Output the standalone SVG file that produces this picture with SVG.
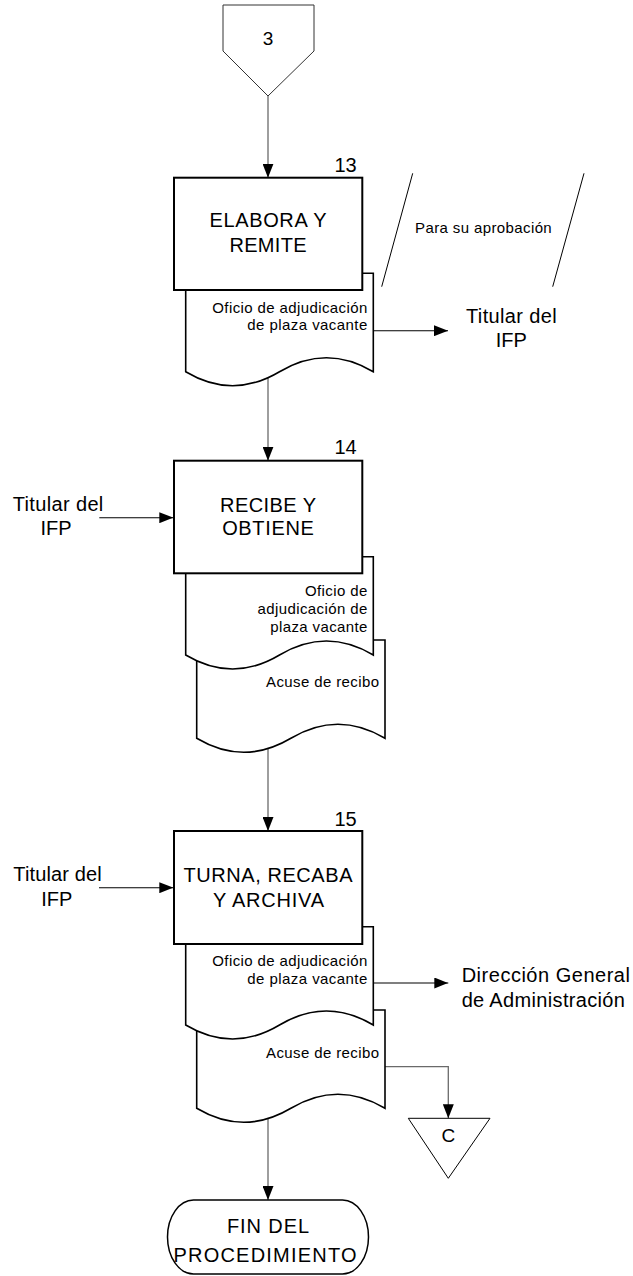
<svg xmlns="http://www.w3.org/2000/svg" width="633" height="1276" viewBox="0 0 633 1276">
<style>
text{font-family:"Liberation Sans",Arial,sans-serif;fill:#000}
.big{font-size:20px}
.num{font-size:20px}
.sm{font-size:15px}
.box{fill:#fff;stroke:#000;stroke-width:2}
.doc{fill:#fff;stroke:#000;stroke-width:1.6}
.thin{fill:#fff;stroke:#000;stroke-width:1}
.cv{fill:none;stroke:#6a6a6a;stroke-width:1.3}
.ch{fill:none;stroke:#000;stroke-width:1.1}
.ann{fill:none;stroke:#000;stroke-width:1}
</style>
<defs>
<marker id="arrow" viewBox="0 0 14 11" refX="14" refY="5.5" markerWidth="14" markerHeight="11" markerUnits="userSpaceOnUse" orient="auto">
<path d="M0,0 L14,5.5 L0,11 Z" fill="#000"/>
</marker>
</defs>

<g id="connectors">
<line class="cv" x1="268" y1="96" x2="268" y2="177.7" marker-end="url(#arrow)"/>
<line class="cv" x1="268" y1="378" x2="268" y2="460.7" marker-end="url(#arrow)"/>
<line class="cv" x1="268" y1="745" x2="268" y2="831" marker-end="url(#arrow)"/>
<line class="cv" x1="268" y1="1115" x2="268" y2="1200" marker-end="url(#arrow)"/>
<line class="ch" x1="373.3" y1="330.7" x2="448" y2="330.7" marker-end="url(#arrow)"/>
<line class="ch" x1="99.3" y1="517.7" x2="173.3" y2="517.7" marker-end="url(#arrow)"/>
<line class="ch" x1="99" y1="887.7" x2="173.3" y2="887.7" marker-end="url(#arrow)"/>
<line class="ch" x1="373.3" y1="983" x2="448.3" y2="983" marker-end="url(#arrow)"/>
<polyline class="cv" points="385,1066.7 448.3,1066.7 448.3,1118.3" marker-end="url(#arrow)"/>
</g>

<g id="conn-3">
<path d="M223,5 H314 V51 L268,96 L223,51 Z" fill="#fff" stroke="#333" stroke-width="1"/>
<text class="big" x="268" y="45" text-anchor="middle" style="font-size:19px">3</text>
</g>

<g id="step-13">
<path class="doc" d="M185.7,273.3 H373.3 V371.7 Q326.4,343.7 279.5,371.7 Q232.6,399.7 185.7,371.7 Z"/>
<text class="sm" x="367.3" y="313.3" text-anchor="end" textLength="155" lengthAdjust="spacing">Oficio de adjudicación</text>
<text class="sm" x="367.3" y="330" text-anchor="end" textLength="120" lengthAdjust="spacing">de plaza vacante</text>
<rect class="box" x="174" y="177.7" width="188.3" height="112.3"/>
<text class="num" x="356.7" y="171.7" text-anchor="end">13</text>
<text class="big" x="268" y="227" text-anchor="middle" textLength="117" lengthAdjust="spacing">ELABORA Y</text>
<text class="big" x="268" y="251.7" text-anchor="middle" textLength="77" lengthAdjust="spacing">REMITE</text>
</g>

<g id="annotation-13">
<line class="ann" x1="412.7" y1="173.3" x2="381.7" y2="286.7"/>
<line class="ann" x1="584" y1="173.3" x2="552.7" y2="286.7"/>
<text class="sm" x="415" y="233.3" textLength="136.7" lengthAdjust="spacing">Para su aprobación</text>
</g>

<g id="titular-13">
<text class="big" x="511.3" y="323" text-anchor="middle" textLength="90.6" lengthAdjust="spacing">Titular del</text>
<text class="big" x="511.3" y="346.7" text-anchor="middle">IFP</text>
</g>

<g id="step-14">
<path class="doc" d="M196.7,640 H385 V738.3 Q337.9,710.3 290.9,738.3 Q243.8,766.3 196.7,738.3 Z"/>
<text class="sm" x="379" y="686.7" text-anchor="end" textLength="113" lengthAdjust="spacing">Acuse de recibo</text>
<path class="doc" d="M185.7,556.7 H373.3 V655 Q326.4,627 279.5,655 Q232.6,683 185.7,655 Z"/>
<text class="sm" x="367.3" y="595.7" text-anchor="end" textLength="62.3" lengthAdjust="spacing">Oficio de</text>
<text class="sm" x="367.3" y="614" text-anchor="end" textLength="109.7" lengthAdjust="spacing">adjudicación de</text>
<text class="sm" x="367.3" y="632" text-anchor="end" textLength="97" lengthAdjust="spacing">plaza vacante</text>
<rect class="box" x="174" y="460.7" width="188.3" height="112.6"/>
<text class="num" x="356.7" y="454.3" text-anchor="end">14</text>
<text class="big" x="268" y="511.7" text-anchor="middle" textLength="96" lengthAdjust="spacing">RECIBE Y</text>
<text class="big" x="268" y="535" text-anchor="middle" textLength="91.7" lengthAdjust="spacing">OBTIENE</text>
</g>

<g id="titular-14">
<text class="big" x="58" y="510.7" text-anchor="middle" textLength="90.6" lengthAdjust="spacing">Titular del</text>
<text class="big" x="56" y="535" text-anchor="middle">IFP</text>
</g>

<g id="step-15">
<path class="doc" d="M196.7,1010 H385 V1108.3 Q337.9,1080.3 290.9,1108.3 Q243.8,1136.3 196.7,1108.3 Z"/>
<text class="sm" x="379" y="1057.7" text-anchor="end" textLength="113" lengthAdjust="spacing">Acuse de recibo</text>
<path class="doc" d="M185.7,926.7 H373.3 V1025 Q326.4,997 279.5,1025 Q232.6,1053 185.7,1025 Z"/>
<text class="sm" x="367.3" y="965.7" text-anchor="end" textLength="155" lengthAdjust="spacing">Oficio de adjudicación</text>
<text class="sm" x="367.3" y="984.3" text-anchor="end" textLength="120" lengthAdjust="spacing">de plaza vacante</text>
<rect class="box" x="174" y="831" width="188.3" height="113"/>
<text class="num" x="356.7" y="825.7" text-anchor="end">15</text>
<text class="big" x="268" y="881.7" text-anchor="middle" textLength="169" lengthAdjust="spacing">TURNA, RECABA</text>
<text class="big" x="268.5" y="906.7" text-anchor="middle" textLength="111" lengthAdjust="spacing">Y ARCHIVA</text>
</g>

<g id="titular-15">
<text class="big" x="57.5" y="881" text-anchor="middle" textLength="88.4" lengthAdjust="spacing">Titular del</text>
<text class="big" x="56.7" y="905.7" text-anchor="middle">IFP</text>
</g>

<g id="dga">
<text class="big" x="545.8" y="982" text-anchor="middle" textLength="168.3" lengthAdjust="spacing">Dirección General</text>
<text class="big" x="543.3" y="1006.5" text-anchor="middle" textLength="163.3" lengthAdjust="spacing">de Administración</text>
</g>

<g id="conn-C">
<path class="thin" d="M408.3,1118.3 H490 L448.3,1178.3 Z"/>
<text class="big" x="448.3" y="1141.7" text-anchor="middle" style="font-size:19px">C</text>
</g>

<g id="fin">
<rect x="167.5" y="1200" width="201" height="74" rx="26" ry="37" fill="#fff" stroke="#000" stroke-width="1.5"/>
<text class="big" x="268" y="1233.3" text-anchor="middle" textLength="82" lengthAdjust="spacing">FIN DEL</text>
<text class="big" x="265" y="1261.7" text-anchor="middle" textLength="183" lengthAdjust="spacing">PROCEDIMIENTO</text>
</g>
</svg>
